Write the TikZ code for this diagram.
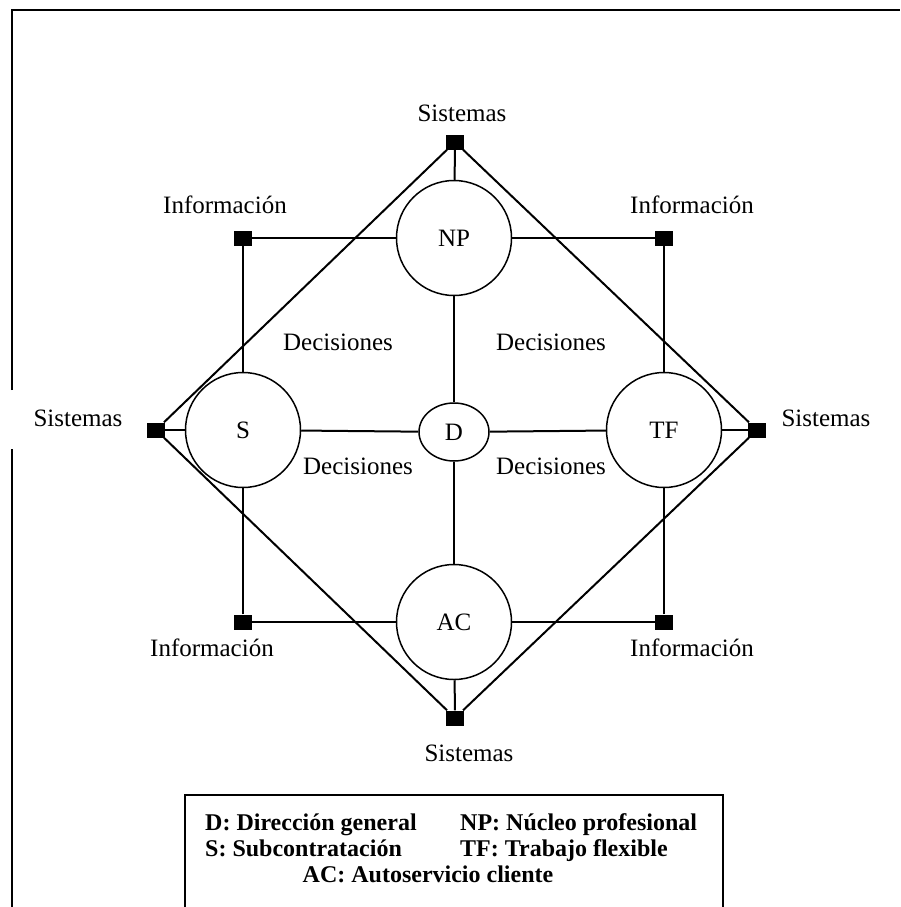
\documentclass[tikz,border=0pt]{standalone}
\usepackage{fontspec}
\setmainfont{Liberation Serif}
\usetikzlibrary{positioning,shapes.geometric}
\tikzset{%
    unit/.style={%
        circle, draw, line width=1.5pt, minimum size=115pt, inner sep=0pt
    },
    core/.style={%
        ellipse, draw, line width=1.5pt, minimum width=70pt, minimum height=58pt, inner sep=0pt
    },
    port/.style={%
        rectangle, fill=black, minimum width=18pt, minimum height=15pt, inner sep=0pt
    },
    lbl/.style={%
        inner sep=0pt
    },
    link/.style={%
        line width=2pt
    },
    frame/.style={%
        line width=2.5pt
    },
    legend/.style={%
        inner sep=0pt, anchor=base west, font=\bfseries\fontsize{24}{28}\selectfont
    },
}
\begin{document}
\begin{tikzpicture}[x=1pt,y=-1pt,every node/.style={font=\fontsize{25}{30}\selectfont}]
      \useasboundingbox (0,0) rectangle (900,907);
      \draw[frame] (12,907) -- (12,449);
      \draw[frame] (12,390) -- (12,10) -- (900,10);

      \node[unit] (NP) at (454,238) {NP};
      \node[unit] (S) at (243,430) {S};
      \node[unit] (TF) at (664,430) {TF};
      \node[unit] (AC) at (454,622) {AC};
      \node[core] (D) at (454,432) {D};

      \node[port] (infoNW) at (243,238) {};
      \node[port] (infoNE) at (664,238) {};
      \node[port] (infoSW) at (243,622) {};
      \node[port] (infoSE) at (664,622) {};
      \node[port] (sysN) at (455,142) {};
      \node[port] (sysS) at (455,718) {};
      \node[port] (sysW) at (156,430) {};
      \node[port] (sysE) at (757,430) {};

      \node[lbl] (tNW) at (225,205) {Información};
      \node[lbl] (tNE) at (692,205) {Información};
      \node[lbl] (tSW) at (212,648) {Información};
      \node[lbl] (tSE) at (692,648) {Información};
      \node[lbl] (tN) at (462,113) {Sistemas};
      \node[lbl] (tS) at (469,753) {Sistemas};
      \node[lbl] (tW) at (78,418) {Sistemas};
      \node[lbl] (tE) at (826,418) {Sistemas};
      \node[lbl] (dNW) at (338,342) {Decisiones};
      \node[lbl] (dNE) at (551,342) {Decisiones};
      \node[lbl] (dSW) at (358,466) {Decisiones};
      \node[lbl] (dSE) at (551,466) {Decisiones};

      \draw[link] (infoNW) -- (NP);
      \draw[link] (infoNW) -- (S);
      \draw[link] (infoNE) -- (NP);
      \draw[link] (infoNE) -- (TF);
      \draw[link] (infoSW) -- (S);
      \draw[link] (infoSW) -- (AC);
      \draw[link] (infoSE) -- (TF);
      \draw[link] (infoSE) -- (AC);

      \draw[link] (NP) -- (D);
      \draw[link] (S) -- (D);
      \draw[link] (TF) -- (D);
      \draw[link] (AC) -- (D);

      \draw[link] (sysN) -- (NP);
      \draw[link] (sysS) -- (AC);
      \draw[link] (sysW) -- (S);
      \draw[link] (sysE) -- (TF);
      \draw[link] (sysN) -- (sysE);
      \draw[link] (sysE) -- (sysS);
      \draw[link] (sysS) -- (sysW);
      \draw[link] (sysW) -- (sysN);

      \draw[frame] (185,915) -- (185,795) -- (723,795) -- (723,915);
      \node[legend] (keyD) at (205,830) {D: Dirección general};
      \node[legend] (keyNP) at (460,830) {NP: Núcleo profesional};
      \node[legend] (keyS) at (205,856) {S: Subcontratación};
      \node[legend] (keyTF) at (460,856) {TF: Trabajo flexible};
      \node[legend, anchor=base] (keyAC) at (428,882) {AC: Autoservicio cliente};
    \end{tikzpicture}
\end{document}
